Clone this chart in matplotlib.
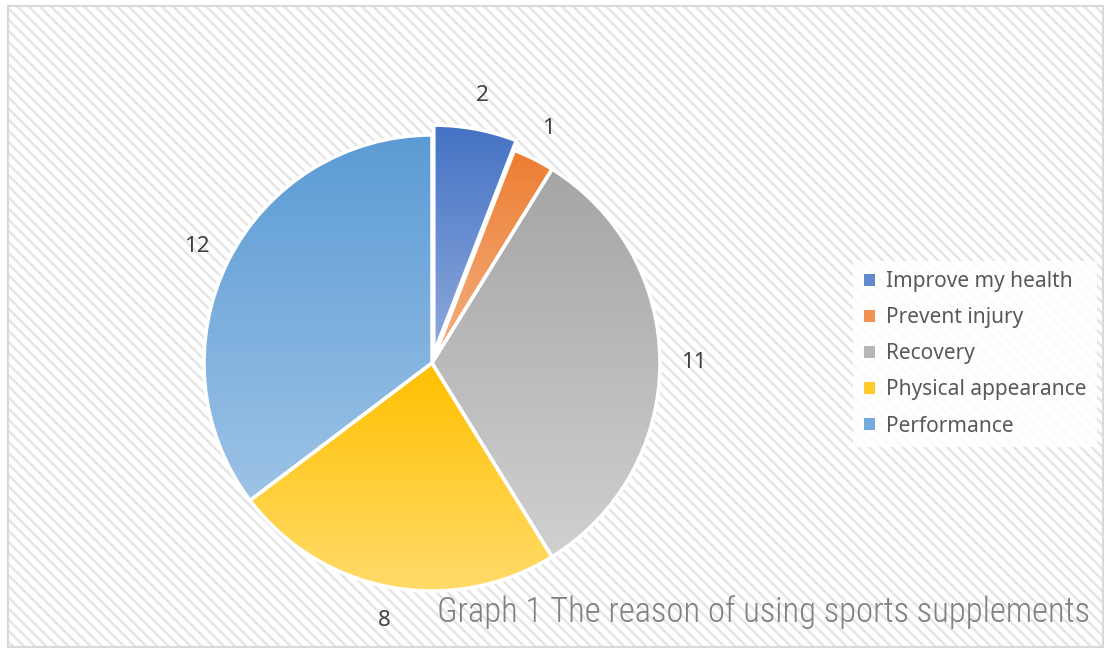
import matplotlib.pyplot as plt
import numpy as np
from matplotlib.colors import LinearSegmentedColormap
from matplotlib.patches import Rectangle, Patch

reasons = ["Improve my health", "Prevent injury", "Recovery", "Physical appearance", "Performance"]
counts = [2, 1, 11, 8, 12]
top_colors = ["#4472c4", "#ed7d31", "#a5a5a5", "#ffc000", "#5b9bd5"]
bottom_colors = ["#8faadc", "#f4b183", "#d0d0d0", "#ffdc6e", "#9dc3e6"]
title = "Graph 1 The reason of using sports supplements"

plt.rcParams["font.family"] = ["Noto Sans", "DejaVu Sans"]
plt.rcParams["hatch.linewidth"] = 1.8

fig = plt.figure(figsize=(11.09, 6.5), dpi=100)
ax = fig.add_axes([0, 0, 1, 1])

# hatched chart area with a thin grey border
ax.add_patch(Rectangle((8, 3), 1095, 641, facecolor="white", edgecolor="#e6e6e6",
                       hatch="\\\\\\", linewidth=0, zorder=0))
ax.add_patch(Rectangle((8, 3), 1095, 641, fill=False, edgecolor="#d9d9d9",
                       linewidth=1.5, zorder=0.5))

wedges, texts = ax.pie(counts, labels=[str(c) for c in counts], startangle=90,
                       counterclock=False, center=(432, 287), radius=228,
                       explode=[10, 0, 0, 0, 0], labeldistance=1.15,
                       textprops=dict(fontsize=16, color="#404040"))

# vertical gradient inside each slice
for w, c0, c1 in zip(wedges, top_colors, bottom_colors):
    verts = w.get_path().vertices
    cmap = LinearSegmentedColormap.from_list("g", [c0, c1])
    grad = np.linspace(0, 1, 256).reshape(-1, 1)
    im = ax.imshow(grad, cmap=cmap, origin="upper", aspect="auto", zorder=1,
                   extent=[verts[:, 0].min(), verts[:, 0].max(),
                           verts[:, 1].min(), verts[:, 1].max()])
    im.set_clip_path(w)
    w.set_facecolor("none")
    w.set_edgecolor("white")
    w.set_linewidth(2.5)
    w.set_zorder(2)

for t in texts:
    t.set_ha("center")
    t.set_va("center")

handles = [Patch(facecolor=LinearSegmentedColormap.from_list("g", [a, b])(0.4))
           for a, b in zip(top_colors, bottom_colors)]
leg = ax.legend(handles, reasons, loc="center left", bbox_to_anchor=(843 / 1109, 1 - 354 / 650),
                frameon=True, facecolor="white", edgecolor="none", framealpha=0.85,
                fancybox=False, fontsize=15, labelcolor="#595959",
                handlelength=0.55, handleheight=0.55, handletextpad=0.5,
                labelspacing=0.72, borderpad=0.5)

ttl = ax.text(1090, 650 - 612, title, ha="right", va="center", fontsize=23, color="#808080",
              family=["Liberation Sans Narrow", "Roboto Condensed", "Open Sans Condensed", "Lato"],
              fontweight="light")

ax.set_xlim(0, 1109)
ax.set_ylim(0, 650)
ax.axis("off")

# size the caption so it spans the same width as in the source
renderer = fig.canvas.get_renderer()
width = ttl.get_window_extent(renderer).width
ttl.set_fontsize(23 * 654 / width)

fig.savefig("out.png", dpi=100, facecolor="white")
